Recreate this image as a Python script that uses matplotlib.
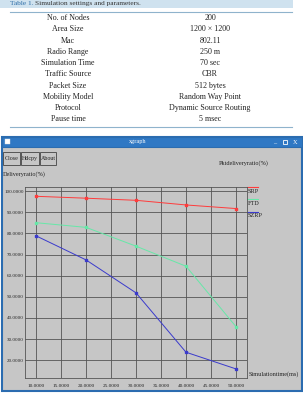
import matplotlib.pyplot as plt
from matplotlib.patches import Rectangle

# table of settings
params = ["No. of Nodes", "Area Size", "Mac", "Radio Range", "Simulation Time",
          "Traffic Source", "Packet Size", "Mobility Model", "Protocol", "Pause time"]
values = ["200", "1200 \u00d7 1200", "802.11", "250 m", "70 sec",
          "CBR", "512 bytes", "Random Way Point", "Dynamic Source Routing", "5 msec"]

# xgraph data
sim_time = [10, 20, 30, 40, 50]
srp = [97.6, 96.7, 95.7, 93.5, 91.8]
ftd = [85.1, 82.9, 74.0, 64.5, 35.9]
szrp = [78.9, 67.5, 51.9, 23.8, 15.9]
x_ticks = [10, 15, 20, 25, 30, 35, 40, 45, 50]
y_ticks = [20, 30, 40, 50, 60, 70, 80, 90, 100]

plt.rcParams['font.family'] = ['Liberation Serif', 'DejaVu Serif']

fig = plt.figure(figsize=(3.03, 3.94), dpi=100)
fig.patch.set_facecolor("white")

# background axes in pixel coords
bg = fig.add_axes([0, 0, 1, 1])
bg.set_xlim(0, 303)
bg.set_ylim(394, 0)
bg.axis("off")

# table caption band
bg.add_patch(Rectangle((0, 0), 293, 7.5, color="#cfe2ef", lw=0))
bg.text(10, 3.6, "Table 1.", color="#2f6fa8", fontsize=5.3, va="center", ha="left")
bg.text(35, 3.6, "Simulation settings and parameters.", color="#333333", fontsize=5.3,
        va="center", ha="left")
bg.plot([10, 292], [12, 12], color="#8fb3cc", lw=0.8)
bg.plot([10, 292], [126.5, 126.5], color="#8fb3cc", lw=0.8)
for i in range(len(params)):
    yy = 18 + i * 11.25
    bg.text(68, yy, params[i], fontsize=5.8, ha="center", va="center", color="#222222")
    bg.text(210, yy, values[i], fontsize=5.8, ha="center", va="center", color="#222222")

# xgraph window
bg.add_patch(Rectangle((1.5, 136.5), 300, 254.5, facecolor="#c6c6c6", edgecolor="#2b6cb0", lw=1.5))
bg.add_patch(Rectangle((1.5, 136.5), 300, 10.5, facecolor="#2f78c4", edgecolor="#2b6cb0", lw=0.8))
bg.add_patch(Rectangle((5, 139), 5, 5, facecolor="white", edgecolor="#dddddd", lw=0.3))
bg.text(138, 141.8, "xgraph", color="white", fontsize=4.5, ha="center", va="center")
bg.text(275, 142, "_", color="white", fontsize=4.5, ha="center", va="center")
bg.add_patch(Rectangle((283, 139.5), 3.5, 4, facecolor="none", edgecolor="white", lw=0.6))
bg.text(295, 142, "X", color="white", fontsize=4.5, ha="center", va="center")

for label, x0, w in [("Close", 3, 17), ("Hdcpy", 21, 18), ("About", 40, 16)]:
    bg.add_patch(Rectangle((x0, 152), w, 13, facecolor="#c6c6c6", edgecolor="#555555", lw=0.7))
    bg.text(x0 + w / 2, 158.5, label, fontsize=4.3, ha="center", va="center", color="#222222")

bg.text(219, 163, "Pktdeliveryratio(%)", fontsize=4.5, ha="left", va="center", color="#222222")
bg.text(3, 174, "Deliveryratio(%)", fontsize=4.5, ha="left", va="center", color="#222222")
bg.text(249, 374, "Simulationtime(ms)", fontsize=4.5, ha="left", va="center", color="#222222")

# legend, xgraph style (line over text)
for name, col, ly in [("SRP", "#ff3b3b", 187), ("FTD", "#66e8a8", 199), ("SZRP", "#3a3acc", 211.5)]:
    bg.plot([247, 258], [ly, ly], color=col, lw=0.8)
    bg.text(248, ly + 4, name, fontsize=4.5, ha="left", va="center", color="#222222")

# plot area
ax = fig.add_axes([25 / 303, 16 / 394, 222 / 303, 191 / 394])
ax.set_facecolor("#c6c6c6")
ax.set_xlim(7.8, 52.2)
ax.set_ylim(11.6, 102)
ax.set_xticks(x_ticks)
ax.set_yticks(y_ticks)
ax.set_xticklabels(["%.4f" % v for v in x_ticks])
ax.set_yticklabels(["%.4f" % v for v in y_ticks])
ax.tick_params(axis="x", labelsize=3.8, length=0, pad=4, colors="#222222")
ax.tick_params(axis="y", labelsize=3.6, length=0, pad=1, colors="#222222")
ax.grid(True, color="#555555", lw=0.6)
for s in ax.spines.values():
    s.set_color("#555555")
    s.set_linewidth(0.6)

ax.plot(sim_time, srp, color="#ff3b3b", lw=0.7, marker="s", ms=2)
ax.plot(sim_time, ftd, color="#66e8a8", lw=0.7, marker="s", ms=2)
ax.plot(sim_time, szrp, color="#3a3acc", lw=0.7, marker="s", ms=2)

fig.savefig("out.png", dpi=100)
